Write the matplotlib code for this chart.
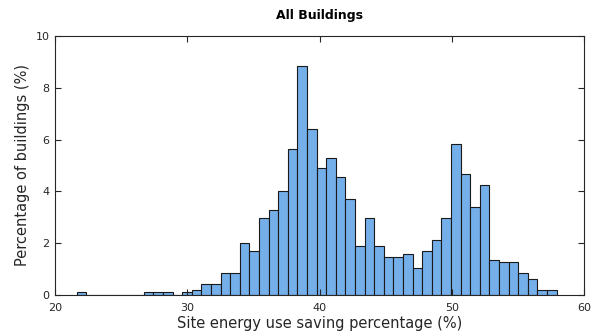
import numpy as np
import matplotlib
matplotlib.use("Agg")
import matplotlib.pyplot as plt

# Histogram of site energy use savings: 50 equal-width bins
bin_start = 21.64
bin_stop = 57.93
n_bins = 50
percent_of_buildings = [
    0.10, 0.0, 0.0, 0.0, 0.0, 0.0, 0.0, 0.10, 0.10, 0.10,
    0.0, 0.10, 0.20, 0.41, 0.41, 0.84, 0.84, 2.00, 1.69, 2.97,
    3.28, 4.03, 5.64, 8.83, 6.39, 4.89, 5.30, 4.57, 3.70, 1.90,
    2.97, 1.90, 1.47, 1.47, 1.57, 1.06, 1.70, 2.13, 2.97, 5.83,
    4.67, 3.41, 4.25, 1.37, 1.28, 1.28, 0.85, 0.62, 0.20, 0.20,
]
x_ticks = [20, 30, 40, 50, 60]
y_ticks = [0, 2, 4, 6, 8, 10]

edges = np.linspace(bin_start, bin_stop, n_bins + 1)
widths = np.diff(edges)

fig = plt.figure(figsize=(5.93, 3.36), dpi=100)
ax = fig.add_axes([55 / 593, 41 / 336, 529 / 593, 259 / 336])

ax.bar(edges[:-1], percent_of_buildings, width=widths, align="edge",
       color="#74AFE9", edgecolor="#1a1a1a", linewidth=0.8)

ax.set_xlim(20, 60)
ax.set_ylim(0, 10)
ax.set_xticks(x_ticks)
ax.set_yticks(y_ticks)
ax.tick_params(direction="in", top=True, right=True, length=4, width=0.8,
               labelsize=8, colors="#262626")
ax.tick_params(axis="x", pad=6)
ax.tick_params(axis="y", pad=4)
for s in ax.spines.values():
    s.set_linewidth(0.8)
    s.set_color("#262626")

ax.set_xlabel("Site energy use saving percentage (%)", fontsize=10.5,
              color="#262626", labelpad=2)
ax.set_ylabel("Percentage of buildings (%)", fontsize=10.5,
              color="#262626", labelpad=4)
ax.set_title("All Buildings", fontsize=9, fontweight="bold", pad=12)

fig.savefig("out.png", dpi=100)
